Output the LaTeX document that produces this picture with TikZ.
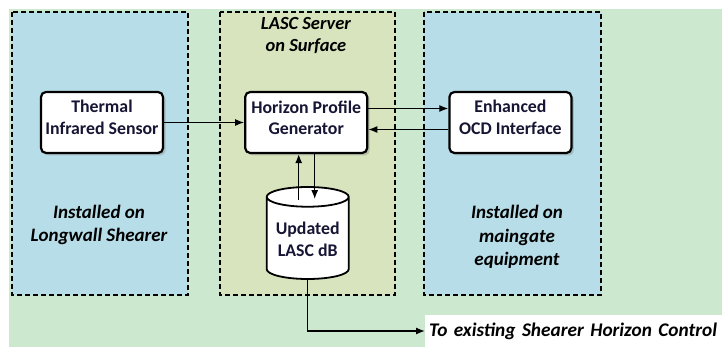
\documentclass[tikz,border=0pt]{standalone}
\usepackage{fontspec}
\setmainfont{Carlito}
\usetikzlibrary{positioning,shapes.geometric,arrows.meta,calc,shadows}
\definecolor{PanelGreen}{RGB}{204,232,207}
\definecolor{ZoneBlue}{RGB}{183,221,232}
\definecolor{ZoneOlive}{RGB}{215,228,189}
\definecolor{InkNavy}{RGB}{22,22,52}

\begin{document}
\begin{tikzpicture}[x=1pt, y=-1pt, node distance=80pt,
    >={Latex[length=9pt,width=7pt]},
    font=\fontsize{17.8}{21.5}\selectfont\bfseries,
    zone/.style={draw, line width=1.4pt, dash pattern=on 5pt off 3pt},
    unit/.style={draw, rectangle, rounded corners=5pt, line width=2.2pt, fill=white,
      minimum width=122pt, minimum height=61pt, align=center, text=InkNavy,
      drop shadow={shadow xshift=2.5pt, shadow yshift=-2.5pt, opacity=0.35}},
    note/.style={align=center, font=\fontsize{19}{23.5}\selectfont\bfseries\itshape},
    link/.style={->, line width=1.3pt}]
    \useasboundingbox (0,0) rectangle (722,347);
    \fill[PanelGreen] (9,9) rectangle (722,347);
    \draw[zone, fill=ZoneBlue] (12,12) rectangle (188,295);
    \draw[zone, fill=ZoneOlive] (220,12) rectangle (395,295);
    \draw[zone, fill=ZoneBlue] (424,12) rectangle (601,295);

    \node[unit] (sensor) at (102,122.5) {Thermal\\Infrared Sensor\\[-11.5pt]\mbox{}};
    \node[unit, right=of sensor] (hpg) {Horizon Profile\\Generator\\[-11.5pt]\mbox{}};
    \node[unit, right=of hpg] (ocd) {Enhanced\\OCD Interface\\[-11.5pt]\mbox{}};
    \node[draw, cylinder, shape border rotate=90, aspect=0.28, line width=1.8pt, fill=white,
      minimum width=82pt, minimum height=92pt, align=center, text=InkNavy,
      below=32pt of hpg, xshift=1.5pt] (db) {\mbox{}\\[-11.5pt]Updated\\LASC dB};

    \node[note, font=\fontsize{18.5}{22}\selectfont\bfseries\itshape] (server) at (306,36)
      {LASC Server\\on Surface};
    \node[note] (shearer) at (99,225) {Installed on\\Longwall Shearer};
    \node[note] (maingate) at (517,237) {Installed on\\maingate\\equipment};
    \node[fill=white, anchor=west, text width=289pt, inner xsep=4pt, minimum height=32pt,
      font=\fontsize{19.3}{21}\selectfont\bfseries\itshape] (target) at (425,331)
      {To existing Shearer Horizon Control};

    \draw[link] (sensor) -- (hpg);
    \draw[link] ($(hpg.east)+(0,-14)$) -- ($(ocd.west)+(0,-14)$);
    \draw[link] ($(ocd.west)+(0,7)$) -- ($(hpg.east)+(0,7)$);
    \draw[link] ($(db.north)+(-9,14)$) -- ($(hpg.south)+(-7.5,0)$);
    \draw[link] ($(hpg.south)+(8.5,0)$) -- ($(db.north)+(7,13)$);
    \draw[link] (db.south) |- (target.west);
  \end{tikzpicture}
\end{document}
